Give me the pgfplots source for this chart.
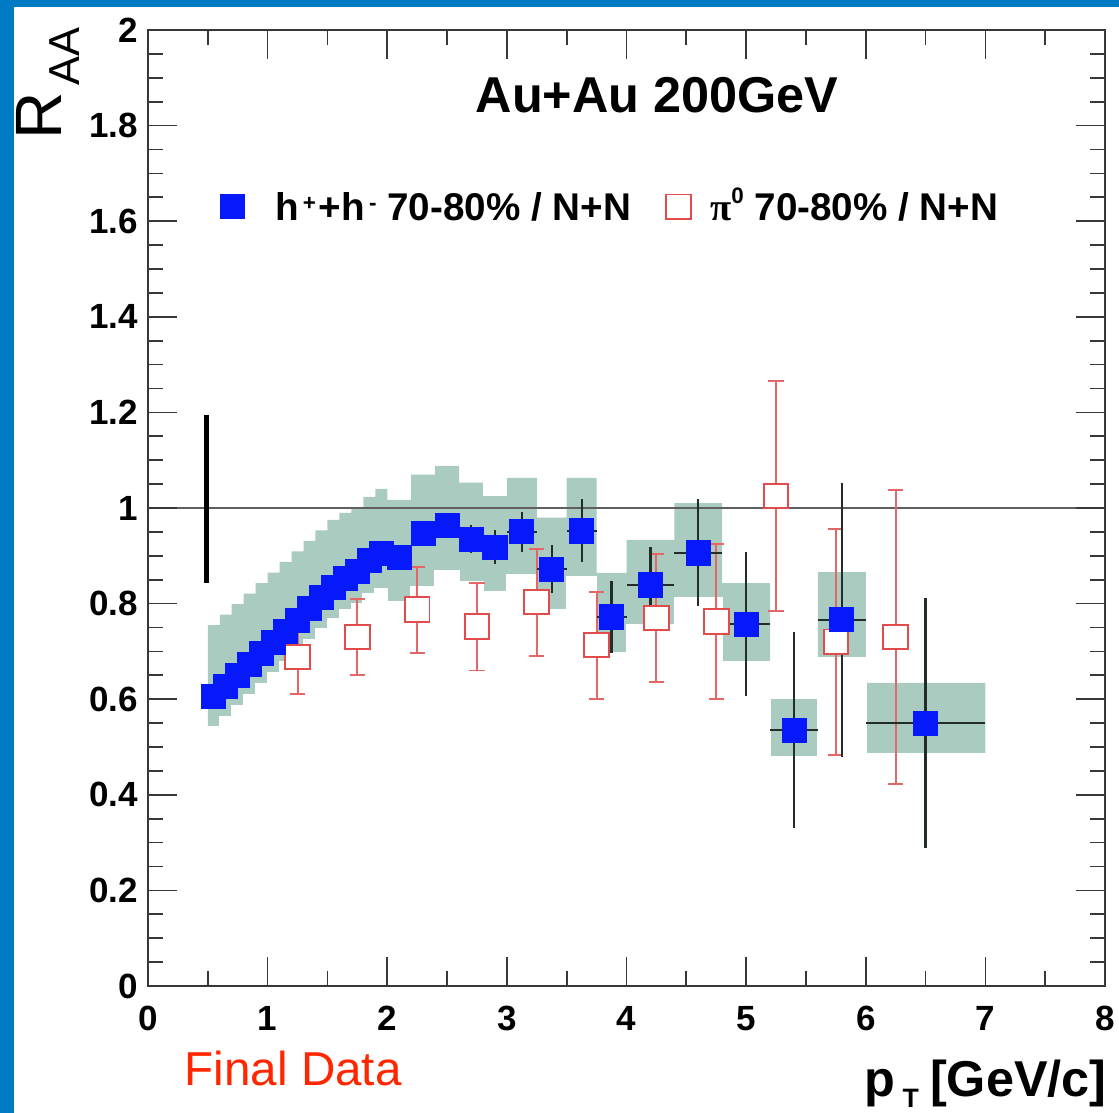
\documentclass[border=0pt]{standalone}
\usepackage{fontspec}
\setmainfont{Liberation Sans}
\newfontfamily\symb{Liberation Serif}
\usepackage{pgfplots}
\usepackage{pgfplotstable}
\pgfplotsset{compat=1.18}
\definecolor{bgblue}{RGB}{0,122,194}
\definecolor{hblue}{RGB}{5,25,250}
\definecolor{band}{RGB}{170,203,191}
\definecolor{pired}{RGB}{225,75,75}
\definecolor{errc}{RGB}{35,45,40}
\definecolor{fdred}{RGB}{255,38,0}
\definecolor{axc}{RGB}{55,55,55}
\definecolor{lineclr}{RGB}{95,95,95}

\pgfplotstableread{
x up lo
0.5 0.755 0.542
0.6 0.777 0.564
0.7 0.799 0.587
0.8 0.821 0.609
0.9 0.843 0.632
1.0 0.865 0.655
1.1 0.887 0.678
1.2 0.909 0.701
1.3 0.931 0.725
1.4 0.953 0.747
1.5 0.975 0.768
1.6 0.990 0.786
1.7 1.000 0.800
1.8 1.023 0.820
1.9 1.040 0.830
2.0 1.017 0.803
2.2 1.070 0.835
2.4 1.088 0.868
2.6 1.053 0.845
2.8 1.025 0.824
3.0 1.063 0.860
3.25 0.980 0.787
3.5 1.063 0.856
3.75 0.864 0.697
4.0 0.933 0.755
4.4 1.010 0.811
4.8 0.843 0.678
5.2 0.600 0.479
5.6 0.866 0.686
6.0 0.634 0.485
7.0 0.634 0.485
}\bandtab

\pgfplotstableread{
x y ex ey
0.55 0.605 0.05 0.01
0.65 0.627 0.05 0.01
0.75 0.650 0.05 0.01
0.85 0.672 0.05 0.01
0.95 0.695 0.05 0.01
1.05 0.718 0.05 0.01
1.15 0.742 0.05 0.01
1.25 0.765 0.05 0.01
1.35 0.790 0.05 0.01
1.45 0.812 0.05 0.01
1.55 0.833 0.05 0.01
1.65 0.852 0.05 0.01
1.75 0.868 0.05 0.01
1.85 0.890 0.05 0.01
1.95 0.905 0.05 0.01
2.1 0.897 0.1 0.02
2.3 0.947 0.1 0.02
2.5 0.963 0.1 0.025
2.7 0.935 0.1 0.03
2.9 0.918 0.1 0.035
3.125 0.950 0.125 0.042
3.375 0.872 0.125 0.05
3.625 0.952 0.125 0.066
3.875 0.772 0.125 0.075
4.2 0.839 0.2 0.079
4.6 0.906 0.2 0.112
5.0 0.757 0.2 0.15
5.4 0.535 0.2 0.205
5.8 0.766 0.2 0.286
6.5 0.550 0.5 0.262
}\htab

\pgfplotstableread{
x y ey
1.25 0.688 0.078
1.75 0.730 0.080
2.25 0.787 0.090
2.75 0.752 0.092
3.25 0.803 0.112
3.75 0.713 0.112
4.25 0.770 0.134
4.75 0.762 0.162
5.25 1.025 0.240
5.75 0.720 0.237
6.25 0.730 0.308
}\pitab

\pgfplotsset{
  hmark/.style={only marks, mark=square*, mark size=4.3pt,
    mark options={fill=hblue, draw=hblue, line width=0.3pt}},
  pimark/.style={only marks, mark=square*, mark size=4.4pt,
    mark options={fill=white, draw=pired, line width=0.7pt}},
}

\begin{document}
\begin{tikzpicture}
\fill[bgblue] (0,0) rectangle (399.64pt,397.5pt);
\fill[white] (5pt,0) rectangle (399.64pt,395pt);
\begin{axis}[
  at={(52.86pt,45.36pt)}, anchor=south west,
  scale only axis, width=341.79pt, height=341.43pt,
  xmin=0, xmax=8, ymin=0, ymax=2,
  xtick={0,1,2,3,4,5,6,7,8},
  ytick={0,0.2,0.4,0.6,0.8,1,1.2,1.4,1.6,1.8,2},
  minor x tick num=1, minor y tick num=3,
  tick align=inside,
  major tick length=10.3pt, minor tick length=5.3pt,
  axis line style={axc, line width=0.7pt},
  tick style={axc, line width=0.6pt},
  /pgf/number format/assume math mode=true,
  ticklabel style={font=\fontsize{12.5}{13}\selectfont\bfseries},
  xticklabel style={yshift=-3.7pt},
  axis on top,
  legend columns=2,
  legend cell align=left,
  legend style={draw=none, fill=none, inner sep=0pt, outer sep=0pt,
    at={(axis cs:0.602,1.63)}, anchor=west,
    nodes={inner sep=0pt, text height=9.8pt, text depth=0pt,
      font=\fontsize{13.8}{14}\selectfont\bfseries}},
]
\addlegendimage{hmark}
\addlegendentry{\hspace*{11.05pt}\makebox[139.65pt][l]{h\kern1.5pt\raisebox{3.6pt}{\fontsize{8}{8}\selectfont +}\kern1pt+h\kern1.5pt\raisebox{3.6pt}{\fontsize{8}{8}\selectfont -}\ 70-80\% / N+N}}
\addlegendimage{pimark}
\addlegendentry{\hspace*{6.95pt}{\symb\bfseries π}\raisebox{6pt}{\fontsize{8}{8}\selectfont 0}\ 70-80\% / N+N}

\addplot[fill=band, draw=none, const plot mark left, forget plot] table[x=x,y=up]{\bandtab} \closedcycle;
\addplot[fill=white, draw=white, line width=0.6pt, const plot mark left, forget plot] table[x=x,y=lo]{\bandtab} \closedcycle;

\addplot[lineclr, line width=0.7pt, forget plot] coordinates {(0,1) (8,1)};
\addplot[black, line width=1.6pt, forget plot] coordinates {(0.49,0.843) (0.49,1.195)};

\addplot[pimark, forget plot,
  error bars/.cd, y dir=both, y explicit,
  error bar style={pired!85!white, line width=0.7pt},
  error mark options={rotate=90, pired!85!white, line width=0.7pt, mark size=2.7pt}]
  table[x=x,y=y,y error=ey]{\pitab};

\addplot[hmark, forget plot,
  error bars/.cd, x dir=both, x explicit, y dir=both, y explicit,
  error mark=none,
  error bar style={errc, line width=0.8pt}]
  table[x=x,y=y,x error=ex,y error=ey]{\htab};

\node[anchor=base, font=\fontsize{18}{18}\selectfont\bfseries] at (axis cs:4.256,1.828) {Au+Au 200GeV};
\end{axis}
\node[rotate=90, anchor=base east, inner sep=0pt] at (22.14pt,387.86pt)
  {{\fontsize{23.4}{24}\selectfont R}\kern2.5pt\raisebox{-6.4pt}{\fontsize{15.5}{15.5}\selectfont AA}};
\node[anchor=base east, inner sep=0pt, font=\fontsize{18}{18}\selectfont\bfseries] at (395.36pt,5.71pt)
  {p\kern2.5pt\raisebox{-3.6pt}{\fontsize{9.5}{9.5}\selectfont T}\kern4pt[GeV/c]};
\node[anchor=base west, inner sep=0pt, text=fdred, font=\fontsize{17}{17}\selectfont] at (65.8pt,9.64pt) {Final Data};
\pgfresetboundingbox
\path[use as bounding box] (0,0) rectangle (399.64pt,397.5pt);
\end{tikzpicture}
\end{document}
